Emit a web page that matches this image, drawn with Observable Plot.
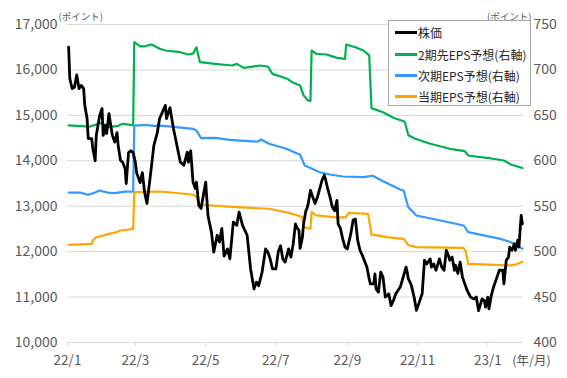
<!DOCTYPE html>
<html><head><meta charset="utf-8">
<script src="https://cdn.jsdelivr.net/npm/d3@7"></script>
<script src="https://cdn.jsdelivr.net/npm/@observablehq/plot@0.6"></script>
<style>
body{margin:0;background:#fff;}
#wrap{position:relative;width:567px;height:378px;font-family:"Noto Sans CJK JP","Noto Sans",sans-serif;}
#legend{position:absolute;left:388px;top:20px;width:143px;height:86px;border:1px solid #a6a6a6;background:#fff;box-sizing:border-box;}
.row{position:absolute;left:0;height:16px;display:flex;align-items:center;font-size:12px;color:#262626;white-space:nowrap;}
.sw{display:inline-block;width:22px;height:3px;margin-left:6px;margin-right:1px;}
</style></head>
<body><div id="wrap"></div>
<script>
// ---- data ----
const priceDates = ["2022-01-02","2022-01-03","2022-01-05","2022-01-07","2022-01-09","2022-01-11","2022-01-13","2022-01-15","2022-01-16","2022-01-18","2022-01-19","2022-01-22","2022-01-23","2022-01-25","2022-01-26","2022-01-29","2022-01-31","2022-02-01","2022-02-03","2022-02-04","2022-02-06","2022-02-08","2022-02-09","2022-02-11","2022-02-13","2022-02-14","2022-02-16","2022-02-18","2022-02-20","2022-02-21","2022-02-23","2022-02-25","2022-02-27","2022-03-01","2022-03-02","2022-03-05","2022-03-07","2022-03-09","2022-03-11","2022-03-14","2022-03-17","2022-03-20","2022-03-22","2022-03-27","2022-03-28","2022-03-31","2022-04-03","2022-04-06","2022-04-09","2022-04-12","2022-04-15","2022-04-16","2022-04-18","2022-04-20","2022-04-22","2022-04-23","2022-04-25","2022-04-27","2022-04-29","2022-05-01","2022-05-03","2022-05-06","2022-05-08","2022-05-11","2022-05-13","2022-05-15","2022-05-17","2022-05-20","2022-05-22","2022-05-25","2022-05-28","2022-05-30","2022-06-02","2022-06-06","2022-06-09","2022-06-12","2022-06-14","2022-06-16","2022-06-19","2022-06-22","2022-06-24","2022-06-26","2022-06-28","2022-07-01","2022-07-03","2022-07-05","2022-07-07","2022-07-09","2022-07-12","2022-07-14","2022-07-16","2022-07-18","2022-07-19","2022-07-21","2022-07-22","2022-07-24","2022-07-25","2022-07-27","2022-07-28","2022-07-29","2022-07-31","2022-08-01","2022-08-04","2022-08-06","2022-08-08","2022-08-10","2022-08-12","2022-08-13","2022-08-15","2022-08-17","2022-08-19","2022-08-21","2022-08-23","2022-08-24","2022-08-26","2022-08-28","2022-08-30","2022-09-01","2022-09-04","2022-09-06","2022-09-08","2022-09-10","2022-09-12","2022-09-14","2022-09-18","2022-09-20","2022-09-21","2022-09-24","2022-09-25","2022-09-26","2022-09-28","2022-09-30","2022-10-02","2022-10-04","2022-10-07","2022-10-09","2022-10-11","2022-10-13","2022-10-17","2022-10-20","2022-10-22","2022-10-23","2022-10-24","2022-10-26","2022-10-27","2022-10-29","2022-10-31","2022-11-02","2022-11-04","2022-11-05","2022-11-07","2022-11-09","2022-11-12","2022-11-13","2022-11-15","2022-11-17","2022-11-20","2022-11-22","2022-11-24","2022-11-26","2022-11-28","2022-11-29","2022-12-01","2022-12-03","2022-12-04","2022-12-06","2022-12-08","2022-12-10","2022-12-12","2022-12-14","2022-12-17","2022-12-20","2022-12-22","2022-12-24","2022-12-27","2022-12-29","2022-12-30","2023-01-01","2023-01-02","2023-01-04","2023-01-06","2023-01-09","2023-01-11","2023-01-14","2023-01-15","2023-01-17","2023-01-19","2023-01-20","2023-01-22","2023-01-24","2023-01-25","2023-01-27","2023-01-28","2023-01-30","2023-01-31"];
const priceValues = [16500,15810,15590,15620,15890,15590,15660,15590,15220,14930,14490,14490,14270,14000,14560,15000,15150,14560,14780,14600,15040,14710,14560,14410,14620,14340,14010,13960,13830,13500,14180,14220,14180,13960,13740,13520,13740,13300,13060,13680,14340,14620,14930,15220,14930,15170,14710,14340,13970,13900,14190,13970,14220,13530,13390,13530,13020,12950,13240,13530,12790,12430,11990,12360,12210,12510,11900,12060,11840,12650,12580,12870,12580,12360,11620,11180,11330,11250,11550,12060,11990,11840,11620,11620,11990,12130,11840,11770,12060,11880,12170,12610,12540,12470,12070,12320,12610,12900,12950,13050,13350,13270,13060,13200,13380,13570,13680,13600,13380,13200,12980,12900,13130,12610,12510,12280,12100,12060,12390,12690,12720,12250,12030,11920,11660,11400,11290,11290,11510,11180,11110,11550,11440,11000,11070,10810,10920,11070,11220,11480,11660,11550,11400,11300,11220,11000,10710,10850,11000,11070,11810,11730,11840,11660,11730,11590,11840,11660,11590,12030,11900,11810,11880,11590,11700,11520,11770,11440,11290,11150,11000,10960,11000,10700,10960,10920,10780,11000,10740,11030,11220,11440,11590,11590,11290,11810,11880,12100,12030,12170,12030,12250,12100,12800,12610];

const eps2Dates = ["2022-01-02","2022-01-20","2022-01-26","2022-01-29","2022-02-02","2022-02-06","2022-02-14","2022-02-18","2022-02-25","2022-02-27","2022-02-28","2022-03-05","2022-03-09","2022-03-15","2022-03-18","2022-03-22","2022-03-27","2022-04-09","2022-04-16","2022-04-20","2022-04-23","2022-04-26","2022-05-09","2022-05-24","2022-05-28","2022-06-03","2022-06-17","2022-06-24","2022-06-28","2022-07-05","2022-07-11","2022-07-15","2022-07-22","2022-07-25","2022-07-29","2022-07-31","2022-08-01","2022-08-05","2022-08-14","2022-08-23","2022-08-30","2022-08-31","2022-09-08","2022-09-15","2022-09-20","2022-09-22","2022-10-02","2022-10-11","2022-10-20","2022-10-21","2022-10-24","2022-10-30","2022-11-12","2022-11-29","2022-12-12","2022-12-15","2022-12-31","2023-01-15","2023-01-21","2023-01-31"];
const eps2Values = [639,637.5,640,641.8,640,637,638.5,640.7,639.6,639,730.5,726,726,728,726,723.3,721.4,719.5,717,718,725,708.5,706.7,704.9,706.7,702.3,704.9,703.8,695.7,692.8,690.2,686.5,682.9,672,666.4,666,721.4,717.8,717,713.3,712.2,728,725,721.4,716,658,653.5,647.3,643.6,642.5,628,624.2,618.7,613.2,610.6,605.8,603.3,600.3,595.9,592];

const epsNextDates = ["2022-01-02","2022-01-12","2022-01-19","2022-01-25","2022-01-29","2022-02-05","2022-02-11","2022-02-20","2022-02-27","2022-02-28","2022-03-10","2022-03-17","2022-03-22","2022-04-01","2022-04-20","2022-04-23","2022-04-27","2022-05-09","2022-05-22","2022-06-15","2022-06-18","2022-06-25","2022-07-10","2022-07-20","2022-07-22","2022-07-26","2022-07-31","2022-08-08","2022-08-17","2022-08-28","2022-09-15","2022-09-23","2022-10-02","2022-10-17","2022-10-20","2022-10-23","2022-10-24","2022-10-31","2022-11-21","2022-12-11","2022-12-15","2023-01-12","2023-01-21","2023-01-27","2023-01-31"];
const epsNextValues = [565,565,562.6,565,567.3,565,564.5,566,566,638.8,639.6,638.5,638.8,637.7,635.2,633.3,625,625.3,623,621,623.4,618.7,613.2,607.7,606.9,594.8,592,587.4,584.9,582.7,582,583.5,577.5,568.5,567,553,549,539.8,534.3,528.8,521.4,514.1,510.4,506.7,503];

const epsCurDates = ["2022-01-02","2022-01-22","2022-01-23","2022-01-26","2022-02-01","2022-02-06","2022-02-12","2022-02-16","2022-02-23","2022-02-27","2022-02-28","2022-03-22","2022-03-30","2022-04-20","2022-04-23","2022-04-26","2022-05-28","2022-06-25","2022-07-10","2022-07-20","2022-07-24","2022-07-25","2022-07-31","2022-08-01","2022-08-05","2022-08-24","2022-08-31","2022-09-02","2022-09-19","2022-09-22","2022-10-05","2022-10-20","2022-10-24","2022-10-31","2022-12-11","2022-12-13","2022-12-15","2023-01-21","2023-01-26","2023-01-31"];
const epsCurValues = [507.5,508.6,512.3,515.9,517.8,519.6,521.4,523.3,524.4,525.1,565.4,566.2,565.4,562.6,560,551.6,549,547.2,543.4,539.8,537.9,527,525.2,543.4,540,537.5,538,542.8,541.6,519,515.9,514.1,507,505,504.2,500,486.6,484.8,486,489];

const leftTicks = [10000,11000,12000,13000,14000,15000,16000,17000];
const rightTicks = [400,450,500,550,600,650,700,750];
const xTickDates = ["2022-01-01","2022-03-01","2022-05-01","2022-07-01","2022-09-01","2022-11-01","2023-01-01"];
const xTickLabels = ["22/1","22/3","22/5","22/7","22/9","22/11","23/1"];
const seriesNames = ["株価","2期先EPS予想(右軸)","次期EPS予想(右軸)","当期EPS予想(右軸)"];
const seriesColors = ["#000000","#00b050","#3399ff","#ffa500"];

// ---- build ----
const toLeft = v => 10000 + (v - 400) * 20; // right axis (400-750) onto left scale (10000-17000)
const mk = (ds, vs, conv) => ds.map((d, i) => ({date: new Date(d), value: conv ? conv(vs[i]) : vs[i]}));
const price = mk(priceDates, priceValues);
const eps2 = mk(eps2Dates, eps2Values, toLeft);
const epsNext = mk(epsNextDates, epsNextValues, toLeft);
const epsCur = mk(epsCurDates, epsCurValues, toLeft);
const xTicks = xTickDates.map(d => new Date(d));
const font = '"Noto Sans CJK JP","Noto Sans",sans-serif';

const chart = Plot.plot({
  width: 567, height: 378,
  marginLeft: 67, marginRight: 44, marginTop: 24, marginBottom: 36,
  style: {fontFamily: font, color: "#595959", background: "#fff", overflow: "visible"},
  x: {type: "utc", domain: [new Date("2022-01-01"), new Date("2023-02-01")]},
  y: {domain: [10000, 17000]},
  marks: [
    Plot.gridY(leftTicks, {stroke: "#d9d9d9", strokeOpacity: 1, strokeWidth: 1}),
    Plot.axisY(leftTicks, {anchor: "left", tickSize: 0, tickPadding: 10, fontSize: 14, tickFormat: d3.format(","), label: null}),
    Plot.axisY(rightTicks.map(toLeft), {anchor: "right", tickSize: 0, tickPadding: 10, fontSize: 14, tickFormat: (d, i) => String(rightTicks[i]), label: null}),
    Plot.axisX(xTicks, {tickSize: 4, tickPadding: 9, fontSize: 13.5, stroke: "#d9d9d9", tickFormat: (d, i) => xTickLabels[i], label: null}),
    Plot.text(["(ポイント)"], {frameAnchor: "top-left", textAnchor: "start", dx: -9, dy: -11, fontSize: 9.5, letterSpacing: "-0.6px", fill: "#595959"}),
    Plot.text(["(ポイント)"], {frameAnchor: "top-right", textAnchor: "end", dx: 8, dy: -11, fontSize: 9.5, letterSpacing: "-0.6px", fill: "#595959"}),
    Plot.text(["(年/月)"], {frameAnchor: "bottom-right", textAnchor: "middle", dx: 8, dy: 22, fontSize: 12.5, fill: "#595959"}),
    Plot.line(eps2, {x: "date", y: "value", stroke: seriesColors[1], strokeWidth: 2.2}),
    Plot.line(epsNext, {x: "date", y: "value", stroke: seriesColors[2], strokeWidth: 2.2}),
    Plot.line(epsCur, {x: "date", y: "value", stroke: seriesColors[3], strokeWidth: 2.2}),
    Plot.line(price, {x: "date", y: "value", stroke: seriesColors[0], strokeWidth: 2.8})
  ]
});

const wrap = document.getElementById("wrap");
wrap.appendChild(chart);
const legend = document.createElement("div");
legend.id = "legend";
const rowTops = [3, 25, 46, 67];
seriesNames.forEach((name, i) => {
  const r = document.createElement("div");
  r.className = "row";
  r.style.top = rowTops[i] + "px";
  const sw = document.createElement("span");
  sw.className = "sw";
  sw.style.background = seriesColors[i];
  r.appendChild(sw);
  r.appendChild(document.createTextNode(name));
  legend.appendChild(r);
});
wrap.appendChild(legend);
</script>
</body></html>
